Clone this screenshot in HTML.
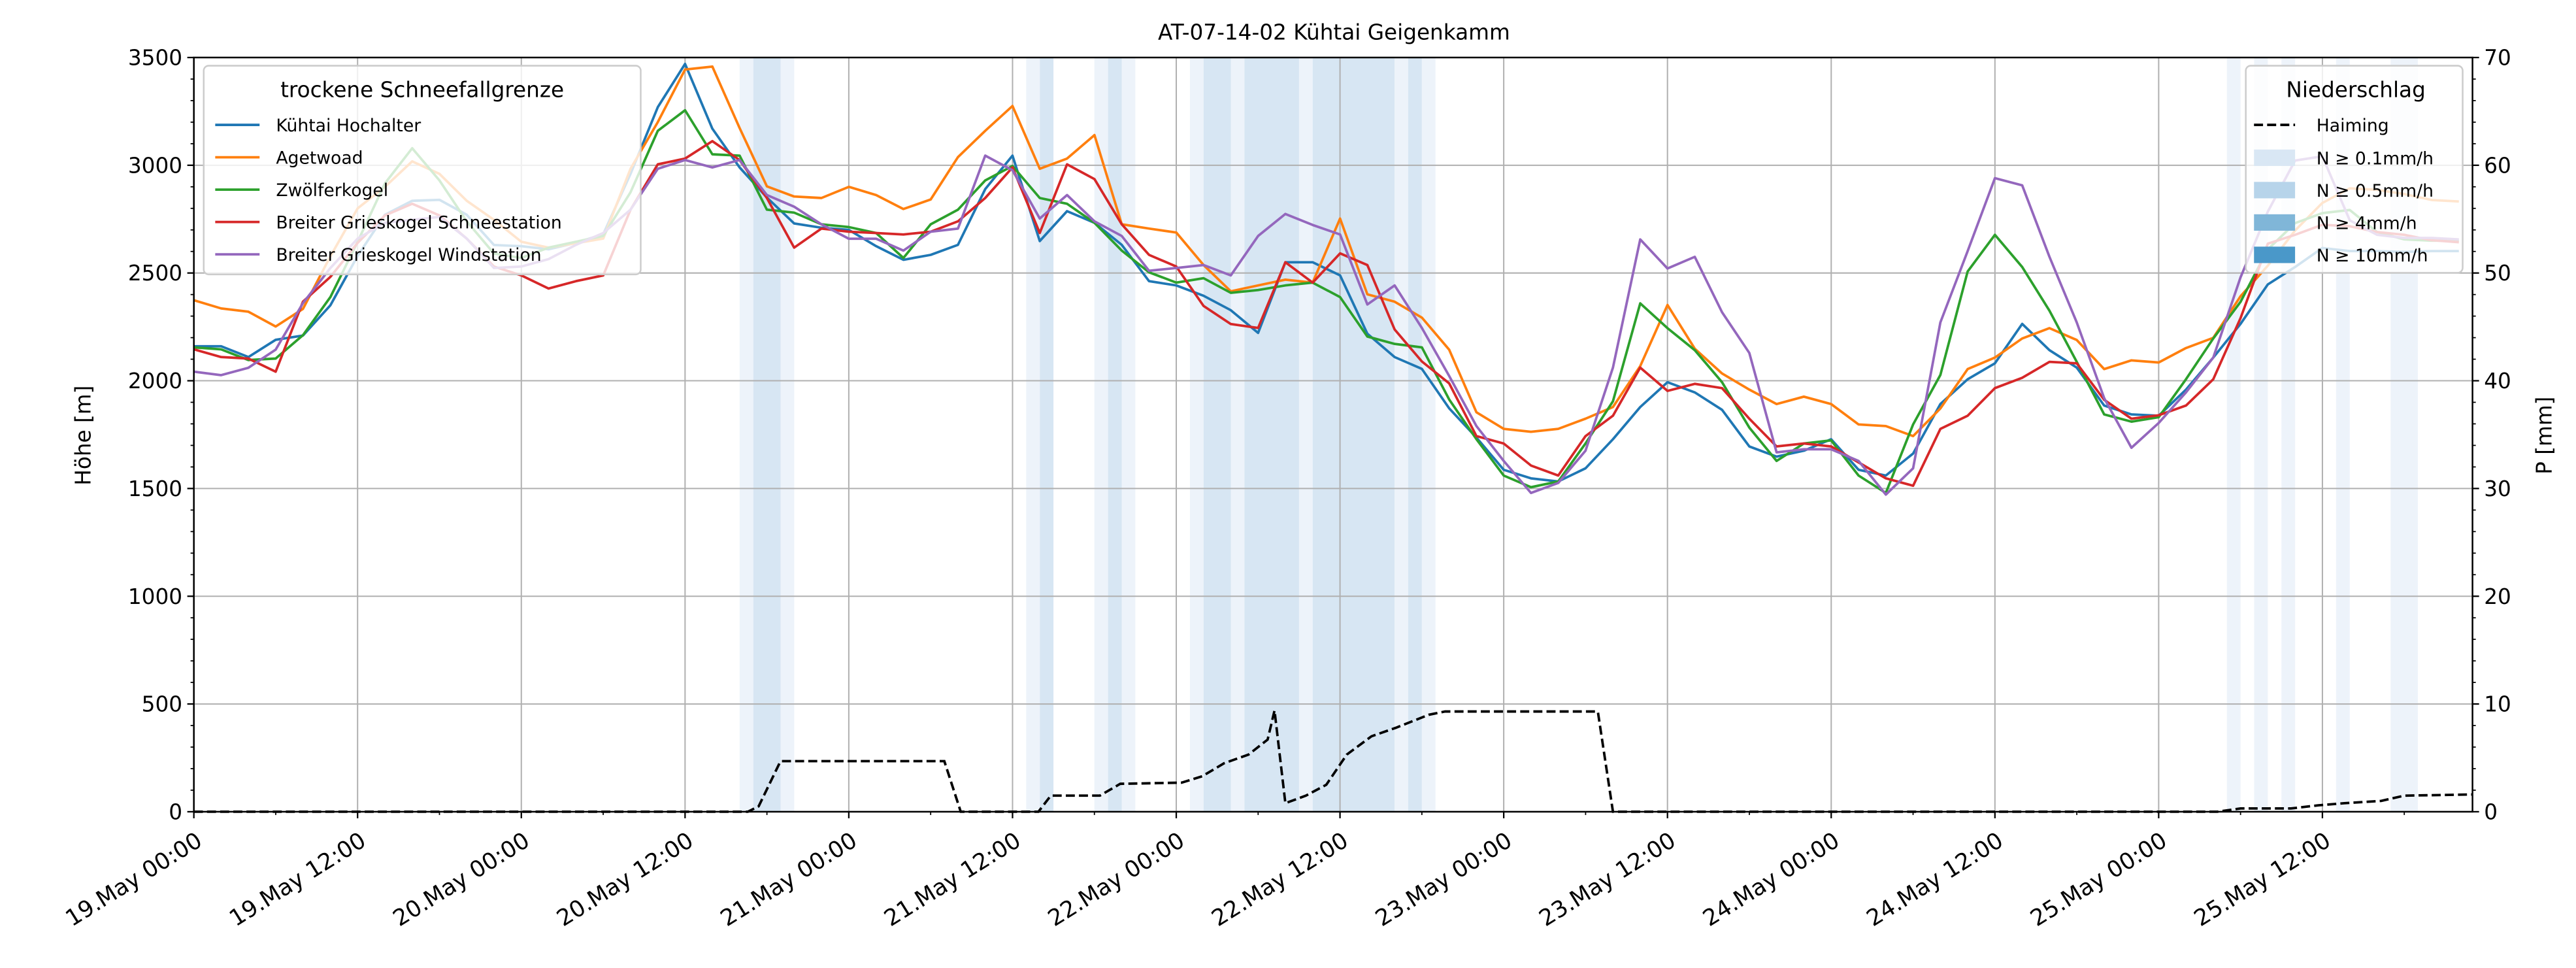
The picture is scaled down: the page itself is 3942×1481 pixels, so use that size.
<!DOCTYPE html>
<html><head><meta charset="utf-8"><style>
html,body{margin:0;padding:0;background:#fff;}
svg{display:block;font-family:"DejaVu Sans","Liberation Sans",sans-serif;}
</style></head><body>
<svg id="chart" xmlns="http://www.w3.org/2000/svg" width="3942" height="1481" viewBox="0 0 1568 589.1" preserveAspectRatio="none">
<rect x="0" y="0" width="1568" height="589.1" fill="#fff"/>
<text x="812" y="24" font-size="13" text-anchor="middle">AT-07-14-02 Kühtai Geigenkamm</text>
<g id="bands"></g>
<g id="grid"></g>
<g id="series"></g>
<g id="axes"></g>
<text transform="translate(55,265) rotate(-90)" font-size="13" text-anchor="middle">Höhe [m]</text>
<text transform="translate(1553,265) rotate(-90)" font-size="13" text-anchor="middle">P [mm]</text>
<g id="legend1">
<rect x="124" y="40" width="266" height="127" rx="3" fill="#fff" fill-opacity="0.8" stroke="#cccccc" stroke-width="1"/>
<text x="257" y="59" font-size="13" text-anchor="middle">trockene Schneefallgrenze</text>
</g>
<g id="legend2">
<rect x="1367" y="40" width="132" height="126" rx="3" fill="#fff" fill-opacity="0.8" stroke="#cccccc" stroke-width="1"/>
<text x="1434" y="59" font-size="13" text-anchor="middle">Niederschlag</text>
</g>
</svg>
<script>
const hours = [];
for (let h = 0; h <= 166; h += 2) hours.push(h);
const seriesNames = ["Kühtai Hochalter","Agetwoad","Zwölferkogel","Breiter Grieskogel Schneestation","Breiter Grieskogel Windstation"];
const kuehtai = [2160,2160,2110,2190,2210,2350,2580,2770,2835,2840,2770,2630,2625,2610,2640,2680,2960,3270,3470,3170,2990,2850,2730,2710,
2700,2625,2561,2584,2631,2889,3045,2648,2787,2733,2631,2462,2442,2394,2327,2222,2550,2550,2489,2218,2110,2055,1872,
1736,1587,1547,1533,1594,1729,1878,1993,1946,1865,1695,1648,1675,1729,1587,1560,1662,1892,2007,2081,2264,2142,2061,
1885,1844,1838,1959,2108,2264,2447,2528,2616,2602,2602,2598,2602,2602];
const agetwoad = [2374,2336,2320,2252,2333,2577,2800,2900,3018,2960,2835,2747,2645,2618,2638,2660,2984,3200,3444,3458,3173,2902,2855,2848,
2900,2862,2797,2841,3038,3160,3275,2984,3031,3140,2726,2706,2688,2537,2415,2442,2469,2455,2753,2401,2367,2293,2144,
1854,1777,1763,1777,1824,1878,2068,2352,2149,2034,1959,1892,1926,1892,1797,1790,1743,1871,2054,2108,2196,2244,2189,
2054,2095,2085,2152,2199,2392,2534,2697,2825,2893,2886,2866,2839,2832];
const zwoelfer = [2155,2146,2096,2103,2211,2388,2645,2916,3079,2930,2740,2590,2570,2618,2645,2672,2875,3160,3255,3051,3045,2794,2780,2726,
2713,2686,2570,2726,2794,2930,2997,2848,2821,2733,2604,2503,2455,2476,2408,2421,2442,2455,2388,2205,2171,2155,1913,
1729,1560,1506,1533,1709,1905,2359,2244,2142,1993,1783,1628,1709,1723,1560,1479,1797,2027,2507,2677,2528,2325,2088,
1844,1810,1831,2007,2196,2366,2609,2731,2778,2792,2690,2656,2650,2650];
const schneestation = [2146,2110,2103,2042,2367,2482,2640,2767,2821,2767,2660,2530,2489,2428,2462,2489,2794,3004,3031,3112,3024,2848,2618,2706,
2692,2686,2679,2692,2740,2848,2990,2686,3004,2936,2726,2584,2530,2347,2263,2245,2550,2455,2591,2537,2238,2089,1988,
1743,1709,1607,1560,1743,1838,2061,1953,1986,1966,1824,1695,1709,1695,1621,1547,1513,1777,1838,1966,2014,2088,2081,
1912,1824,1840,1885,2007,2291,2636,2677,2724,2717,2690,2677,2652,2643];
const windstation = [2042,2026,2060,2144,2360,2523,2660,2733,2747,2760,2660,2523,2530,2564,2631,2686,2794,2984,3024,2990,3024,2862,2808,2726,
2659,2659,2604,2692,2706,3045,2977,2753,2862,2740,2672,2510,2523,2537,2489,2672,2774,2723,2679,2354,2442,2245,2022,
1790,1628,1479,1526,1675,2061,2656,2521,2575,2318,2129,1668,1682,1682,1628,1472,1594,2271,2602,2940,2907,2575,2271,
1919,1689,1804,1946,2108,2480,2785,3022,3042,2744,2677,2663,2663,2656];
const precipHours = [0,40.6,41.4,43,55,56.2,61.9,62.8,66.4,67.9,72.4,73.9,75.5,77.3,78.7,79.2,80,81.5,83,84.5,86.3,88.1,90.5,91.7,102.9,104,148.3,150,153.7,155.7,157.6,160.3,162,167];
const precipMm = [0,0,0.5,4.7,4.7,0,0,1.5,1.5,2.6,2.7,3.3,4.5,5.3,6.7,9.4,0.8,1.5,2.5,5.3,7,7.8,9,9.3,9.3,0,0,0.3,0.3,0.6,0.8,1.0,1.5,1.6];
const bandStart = [40,41,43,61,62,66,67,68,73,74,76,77,81,82,88,89,90,149,151,153,157,161];
const bandEnd   = [41,43,44,62,63,67,68,69,74,76,77,81,82,88,89,90,91,150,152,154,158,163];
const bandLevel = [1,2,1,1,2,1,2,1,1,2,1,2,1,2,1,2,1,1,1,1,1,1];
const yTicks = [0,500,1000,1500,2000,2500,3000,3500];
const y2Ticks = [0,10,20,30,40,50,60,70];
const xTickLabels = ["19.May 00:00","19.May 12:00","20.May 00:00","20.May 12:00","21.May 00:00","21.May 12:00","22.May 00:00","22.May 12:00","23.May 00:00","23.May 12:00","24.May 00:00","24.May 12:00","25.May 00:00","25.May 12:00"];

const NS = "http://www.w3.org/2000/svg";
const L = 118, R = 1505, T = 35, B = 494, HMAX = 167;
const xs = h => L + h / HMAX * (R - L);
const ys = v => B - v / 3500 * (B - T);
const y2 = v => B - v / 70 * (B - T);
function mk(tag, attrs, parent) {
  const e = document.createElementNS(NS, tag);
  for (const k in attrs) e.setAttribute(k, attrs[k]);
  parent.appendChild(e);
  return e;
}
const bandsG = document.getElementById('bands');
const bandColors = {1: "#edf3fa", 2: "#d7e6f3"};
for (let i = 0; i < bandStart.length; i++) {
  const r = mk('rect', {x: xs(bandStart[i]), y: T, width: xs(bandEnd[i]) - xs(bandStart[i]), height: B - T, fill: bandColors[bandLevel[i]]}, bandsG);
  
  
}
const gridG = document.getElementById('grid');
xTickLabels.forEach((t, i) => {
  const x = xs(i * 12);
  const g = mk('line', {x1: x, x2: x, y1: T, y2: B, stroke: "#b0b0b0", "stroke-width": 0.8}, gridG);
  
  
});
yTicks.forEach(v => {
  const g = mk('line', {x1: L, x2: R, y1: ys(v), y2: ys(v), stroke: "#b0b0b0", "stroke-width": 0.8}, gridG);
  
  
});
const colors = ["#1f77b4","#ff7f0e","#2ca02c","#d62728","#9467bd"];
const allSeries = [kuehtai, agetwoad, zwoelfer, schneestation, windstation];
const seriesG = document.getElementById('series');
allSeries.forEach((arr, si) => {
  const pts = arr.map((v, i) => xs(hours[i]).toFixed(1) + "," + ys(v).toFixed(1)).join(" ");
  const p = mk('polyline', {points: pts, fill: "none", stroke: colors[si], "stroke-width": 1.5, "stroke-linejoin": "round"}, seriesG);
  
  
});
const ppts = precipHours.map((h, i) => xs(h).toFixed(1) + "," + y2(precipMm[i]).toFixed(1)).join(" ");
const pl = mk('polyline', {points: ppts, fill: "none", stroke: "#000", "stroke-width": 1.5, "stroke-dasharray": "5.5,2.5"}, seriesG);



const axG = document.getElementById('axes');
mk('rect', {x: L, y: T, width: R - L, height: B - T, fill: "none", stroke: "#000", "stroke-width": 1}, axG);
yTicks.forEach(v => {
  mk('line', {x1: L - 4, x2: L, y1: ys(v), y2: ys(v), stroke: "#000", "stroke-width": 0.9}, axG);
  const t = mk('text', {x: L - 7, y: ys(v) + 4.6, "font-size": 13, "text-anchor": "end"}, axG);
  t.textContent = v;
  
  
});
for (let v = 0; v <= 3500; v += 100) mk('line', {x1: L - 2, x2: L, y1: ys(v), y2: ys(v), stroke: "#000", "stroke-width": 0.7}, axG);
y2Ticks.forEach(v => {
  mk('line', {x1: R, x2: R + 4, y1: y2(v), y2: y2(v), stroke: "#000", "stroke-width": 0.9}, axG);
  const t = mk('text', {x: R + 7, y: y2(v) + 4.6, "font-size": 13, "text-anchor": "start"}, axG);
  t.textContent = v;
  
  
});
for (let v = 0; v <= 70; v += 2) mk('line', {x1: R, x2: R + 2, y1: y2(v), y2: y2(v), stroke: "#000", "stroke-width": 0.7}, axG);
xTickLabels.forEach((lab, i) => {
  const x = xs(i * 12);
  mk('line', {x1: x, x2: x, y1: B, y2: B + 4, stroke: "#000", "stroke-width": 0.9}, axG);
  const t = mk('text', {x: 0, y: 0, "font-size": 13.8, "text-anchor": "end", transform: `translate(${x + 6},${B + 20}) rotate(-32)`}, axG);
  t.textContent = lab;
  
  
});
for (let h = 6; h < HMAX; h += 12) mk('line', {x1: xs(h), x2: xs(h), y1: B, y2: B + 2, stroke: "#000", "stroke-width": 0.7}, axG);

const lg1 = document.getElementById('legend1');
seriesNames.forEach((n, i) => {
  const y = 76 + i * 19.7;
  mk('line', {x1: 131, x2: 158, y1: y, y2: y, stroke: colors[i], "stroke-width": 1.5}, lg1);
  const t = mk('text', {x: 168, y: y + 4, "font-size": 10.6}, lg1);
  t.textContent = n;
  
  
});
const lg2 = document.getElementById('legend2');
mk('line', {x1: 1372, x2: 1397, y1: 76, y2: 76, stroke: "#000", "stroke-width": 1.5, "stroke-dasharray": "5.5,2.5"}, lg2);
const ht = mk('text', {x: 1410, y: 80, "font-size": 10.6}, lg2);
ht.textContent = "Haiming";


const patchColors = ["#d9e7f4","#b7d4ea","#80b6d8","#4a98c9"];
const patchLabels = ["N ≥ 0.1mm/h","N ≥ 0.5mm/h","N ≥ 4mm/h","N ≥ 10mm/h"];
patchLabels.forEach((lab, i) => {
  const y = 96 + i * 19.7;
  mk('rect', {x: 1372, y: y - 5, width: 25, height: 10, fill: patchColors[i]}, lg2);
  const t = mk('text', {x: 1410, y: y + 4, "font-size": 10.6}, lg2);
  t.textContent = lab;
  
  
});
</script>
</body></html>
